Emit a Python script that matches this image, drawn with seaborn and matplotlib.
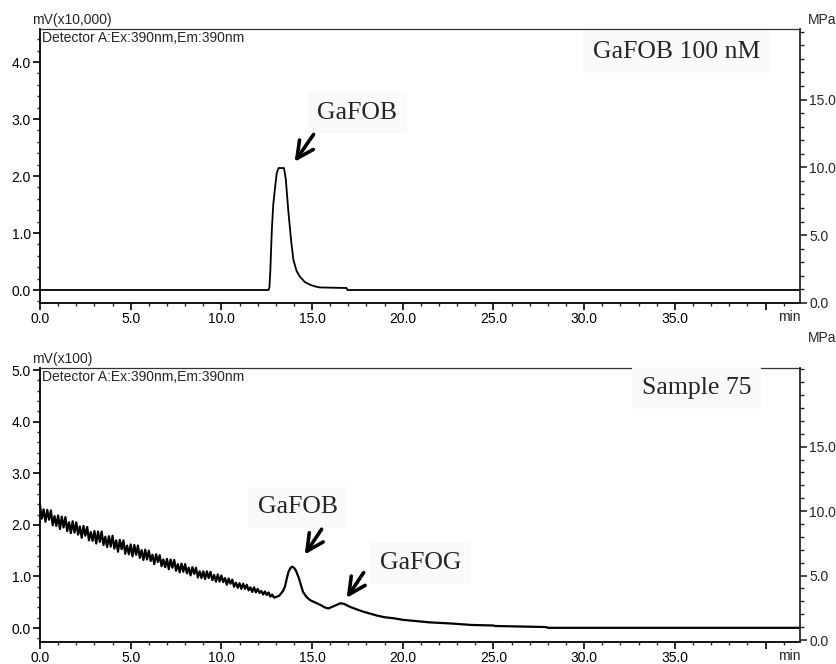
import numpy as np
import pandas as pd
import seaborn as sns
import matplotlib
matplotlib.use("Agg")
import matplotlib.pyplot as plt
from matplotlib.ticker import MultipleLocator

# --- data ---
# top panel: GaFOB standard 100 nM (mV x10,000)
std_time = [0.0, 12.6, 12.65, 12.7, 12.78, 12.86, 12.96, 13.05, 13.15, 13.45, 13.55,
            13.7, 13.85, 13.97, 14.15, 14.34, 14.6, 14.9, 15.2, 15.44, 16.9, 16.95, 42.0]
std_signal = [0.0, 0.0, 0.05, 0.35, 1.05, 1.5, 1.8, 2.05, 2.14, 2.14, 1.95,
              1.35, 0.85, 0.53, 0.33, 0.23, 0.14, 0.09, 0.06, 0.045, 0.035, 0.0, 0.0]

# bottom panel: Sample 75 (mV x100), noisy baseline then peaks
sample_time = [
    0.0, 0.1, 0.2, 0.3, 0.4, 0.5, 0.6, 0.7, 0.8, 0.9,
    1.0, 1.1, 1.2, 1.3, 1.4, 1.5, 1.6, 1.7, 1.8, 1.9,
    2.0, 2.1, 2.2, 2.3, 2.4, 2.5, 2.6, 2.7, 2.8, 2.9,
    3.0, 3.1, 3.2, 3.3, 3.4, 3.5, 3.6, 3.7, 3.8, 3.9,
    4.0, 4.1, 4.2, 4.3, 4.4, 4.5, 4.6, 4.7, 4.8, 4.9,
    5.0, 5.1, 5.2, 5.3, 5.4, 5.5, 5.6, 5.7, 5.8, 5.9,
    6.0, 6.1, 6.2, 6.3, 6.4, 6.5, 6.6, 6.7, 6.8, 6.9,
    7.0, 7.1, 7.2, 7.3, 7.4, 7.5, 7.6, 7.7, 7.8, 7.9,
    8.0, 8.1, 8.2, 8.3, 8.4, 8.5, 8.6, 8.7, 8.8, 8.9,
    9.0, 9.1, 9.2, 9.3, 9.4, 9.5, 9.6, 9.7, 9.8, 9.9,
    10.0, 10.1, 10.2, 10.3, 10.4, 10.5, 10.6, 10.7, 10.8, 10.9,
    11.0, 11.1, 11.2, 11.3, 11.4, 11.5, 11.6, 11.7, 11.8, 11.9,
    12.0, 12.1, 12.2, 12.3, 12.4, 12.5, 12.6, 12.7, 12.8, 12.9,
    13.0, 13.2, 13.4, 13.5, 13.6, 13.7, 13.8, 13.9, 14.0, 14.1,
    14.25, 14.4, 14.5, 14.7, 14.9, 15.2, 15.45, 15.7, 15.9, 16.1,
    16.36, 16.55, 16.75, 17.1, 17.4, 17.8, 18.2, 18.6, 19.0, 19.5,
    20.0, 20.6, 21.5, 22.6, 23.8, 25.0, 25.1, 26.5, 27.9, 28.0,
    35.0, 42.0]
sample_signal = [
    2.38, 2.12, 2.30, 2.06, 2.29, 2.10, 2.28, 1.99, 2.17, 1.98,
    2.18, 1.92, 2.16, 1.95, 2.15, 1.88, 2.05, 1.84, 2.07, 1.85,
    2.05, 1.81, 1.97, 1.75, 1.98, 1.79, 1.96, 1.70, 1.86, 1.69,
    1.88, 1.64, 1.87, 1.67, 1.87, 1.61, 1.77, 1.57, 1.78, 1.58,
    1.79, 1.54, 1.70, 1.48, 1.71, 1.53, 1.70, 1.44, 1.60, 1.43,
    1.62, 1.39, 1.61, 1.42, 1.60, 1.36, 1.51, 1.32, 1.52, 1.33,
    1.50, 1.30, 1.42, 1.24, 1.43, 1.28, 1.41, 1.20, 1.33, 1.18,
    1.34, 1.14, 1.33, 1.17, 1.32, 1.11, 1.24, 1.08, 1.25, 1.09,
    1.24, 1.06, 1.17, 1.02, 1.18, 1.05, 1.17, 0.98, 1.10, 0.97,
    1.10, 0.95, 1.10, 0.97, 1.09, 0.93, 1.03, 0.90, 1.04, 0.90,
    1.02, 0.89, 0.97, 0.84, 0.96, 0.86, 0.94, 0.80, 0.88, 0.78,
    0.87, 0.76, 0.86, 0.76, 0.84, 0.73, 0.79, 0.70, 0.79, 0.69,
    0.76, 0.68, 0.72, 0.65, 0.71, 0.64, 0.69, 0.61, 0.65, 0.59,
    0.60, 0.63, 0.72, 0.80, 0.95, 1.09, 1.16, 1.19, 1.17, 1.12,
    0.99, 0.82, 0.70, 0.60, 0.54, 0.49, 0.45, 0.40, 0.38, 0.41,
    0.45, 0.48, 0.47, 0.41, 0.37, 0.32, 0.28, 0.24, 0.21, 0.19,
    0.16, 0.14, 0.11, 0.09, 0.06, 0.05, 0.04, 0.03, 0.02, 0.005,
    0.005, 0.005]

x_tick_values = [0, 5, 10, 15, 20, 25, 30, 35, 40]
x_tick_labels = ["0.0", "5.0", "10.0", "15.0", "20.0", "25.0", "30.0", "35.0", ""]
mpa_tick_values = [0, 5, 10, 15]
mpa_tick_labels = ["0.0", "5.0", "10.0", "15.0"]

std_df = pd.DataFrame({"time": std_time, "signal": std_signal})
sample_df = pd.DataFrame({"time": sample_time, "signal": sample_signal})

sns.set_style("ticks")
plt.rcParams["font.family"] = ["Liberation Sans", "DejaVu Sans"]
serif = ["Liberation Serif", "DejaVu Serif"]

fig = plt.figure(figsize=(8.37, 6.64), dpi=100)
W, H = 837.0, 664.0

# axes rectangles (pixel positions)
ax_top = fig.add_axes([40 / W, 1 - 303 / H, 760 / W, 274 / H])
ax_bot = fig.add_axes([40 / W, 1 - 642 / H, 760 / W, 274 / H])


def style_axis(ax, ylim, ymajor, mpa_lim):
    ax.set_xlim(0, 41.9)
    ax.set_ylim(*ylim)
    ax.set_xticks(x_tick_values)
    ax.set_xticklabels(x_tick_labels)
    ax.xaxis.set_minor_locator(MultipleLocator(1))
    ax.set_yticks(ymajor)
    ax.set_yticklabels([f"{v:.1f}" for v in ymajor])
    ax.yaxis.set_minor_locator(MultipleLocator(0.2))
    ax.tick_params(axis="both", which="major", direction="out", length=5, width=1.2,
                   labelsize=10, pad=1.5, colors="black")
    ax.tick_params(axis="both", which="minor", direction="out", length=2.5, width=1.0)
    ax.set_xlabel("")
    ax.set_ylabel("")
    for side in ["left", "bottom"]:
        ax.spines[side].set_linewidth(1.3)
        ax.spines[side].set_color("black")
    ax.spines["top"].set_linewidth(0.9)
    ax.spines["top"].set_color("#333333")
    ax.spines["right"].set_visible(False)
    ax.text(41.3, -0.024, "min", transform=ax.get_xaxis_transform(),
            ha="center", va="top", fontsize=10)

    # pressure axis on the right (MPa)
    ax2 = ax.twinx()
    ax2.set_ylim(*mpa_lim)
    ax2.set_yticks(mpa_tick_values)
    ax2.set_yticklabels(mpa_tick_labels)
    ax2.yaxis.set_minor_locator(MultipleLocator(1))
    ax2.tick_params(axis="y", which="major", direction="out", length=5, width=1.2,
                    labelsize=10, pad=1.5)
    ax2.tick_params(axis="y", which="minor", direction="out", length=3, width=1.0)
    ax2.spines["right"].set_linewidth(1.3)
    for side in ["top", "left", "bottom"]:
        ax2.spines[side].set_visible(False)
    return ax2


sns.lineplot(data=std_df, x="time", y="signal", ax=ax_top, color="black",
             linewidth=1.3, estimator=None, sort=False)
sns.lineplot(data=sample_df, x="time", y="signal", ax=ax_bot, color="black",
             linewidth=1.6, estimator=None, sort=False)

style_axis(ax_top, (-0.228, 4.58), [0.0, 1.0, 2.0, 3.0, 4.0], (0, 20.2))
style_axis(ax_bot, (-0.27, 5.04), [0.0, 1.0, 2.0, 3.0, 4.0, 5.0], (-0.15, 21.1))

# unit / detector captions
fig.text(32 / W, 1 - 20 / H, "mV(x10,000)", ha="left", va="center", fontsize=10)
fig.text(32 / W, 1 - 359 / H, "mV(x100)", ha="left", va="center", fontsize=10)
fig.text(808 / W, 1 - 20 / H, "MPa", ha="left", va="center", fontsize=10)
fig.text(808 / W, 1 - 338 / H, "MPa", ha="left", va="center", fontsize=10)
fig.text(42 / W, 1 - 38 / H, "Detector A:Ex:390nm,Em:390nm", ha="left", va="center", fontsize=10)
fig.text(42 / W, 1 - 377 / H, "Detector A:Ex:390nm,Em:390nm", ha="left", va="center", fontsize=10)

box = dict(facecolor="#fafafa", edgecolor="none", pad=7)
arrow = dict(arrowstyle="->", lw=2.6, color="black", mutation_scale=30)

ax_top.text(35.1, 4.18, "GaFOB 100 nM", ha="center", va="center", fontsize=18.5,
            family=serif, bbox=box)
ax_top.text(17.5, 3.11, "GaFOB", ha="center", va="center", fontsize=18.5,
            family=serif, bbox=box)
ax_top.annotate("", xy=(13.95, 2.21), xytext=(15.17, 2.77), arrowprops=arrow)

ax_bot.text(36.2, 4.65, "Sample 75", ha="center", va="center", fontsize=18.5,
            family=serif, bbox=box)
ax_bot.text(14.2, 2.34, "GaFOB", ha="center", va="center", fontsize=18.5,
            family=serif, bbox=box)
ax_bot.annotate("", xy=(14.51, 1.38), xytext=(15.61, 1.96), arrowprops=arrow)
ax_bot.text(21.0, 1.26, "GaFOG", ha="center", va="center", fontsize=18.5,
            family=serif, bbox=box)
ax_bot.annotate("", xy=(16.82, 0.54), xytext=(17.93, 1.12), arrowprops=arrow)

fig.savefig("out.png", dpi=100)
